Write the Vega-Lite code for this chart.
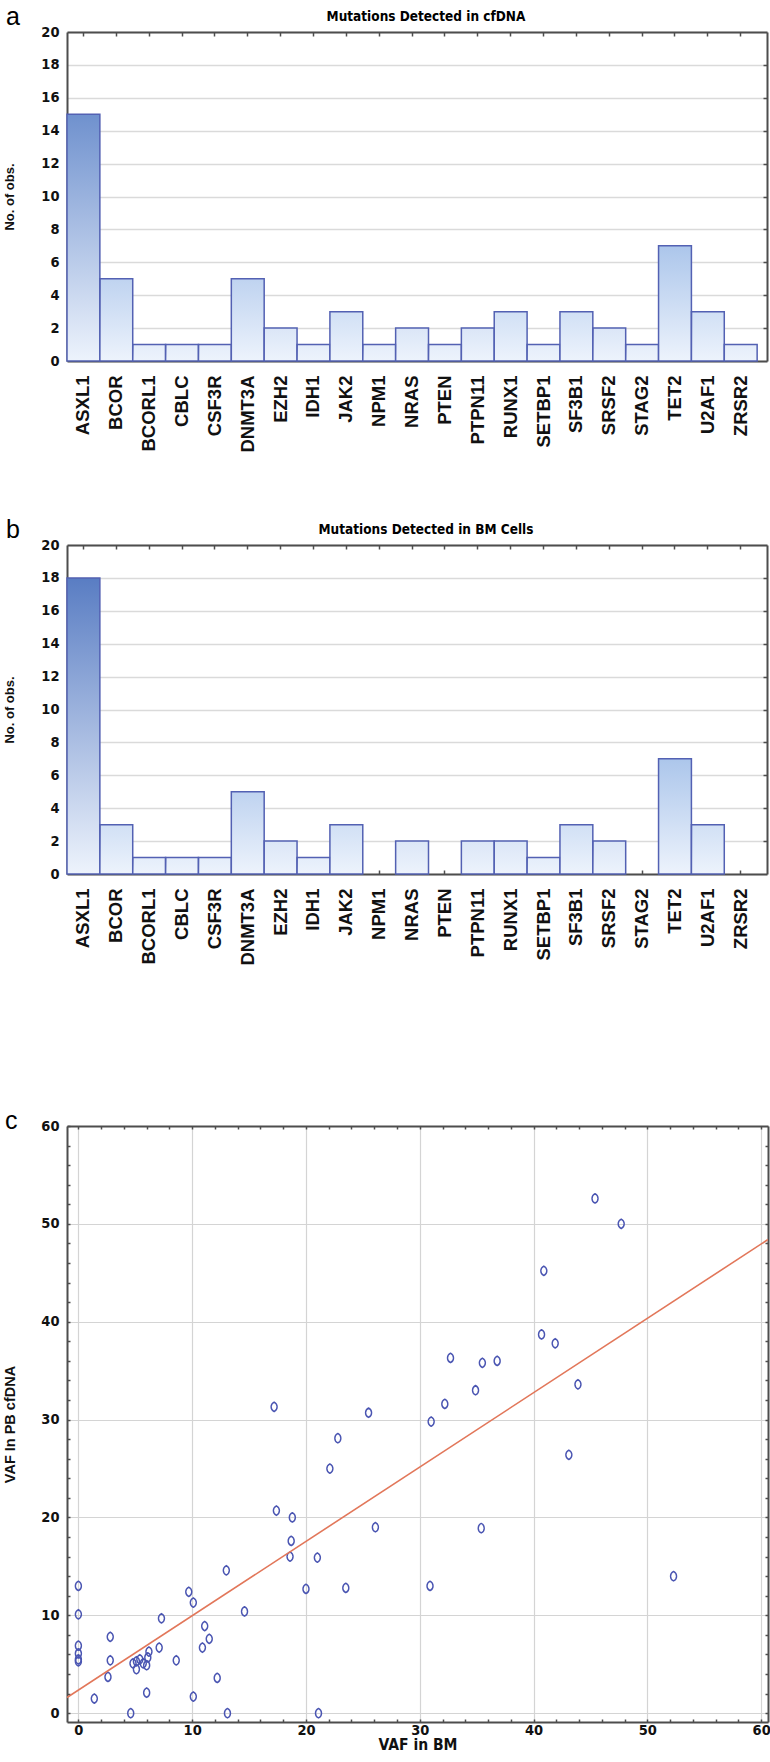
{
  "$schema": "https://vega.github.io/schema/vega-lite/v6.json",
  "background": "white",
  "padding": {"left": 2, "top": 4, "right": 0, "bottom": 0},
  "spacing": 143,
  "config": {
    "view": {"stroke": null},
    "axis": {
      "domainColor": "#4d4d4d",
      "domainWidth": 2,
      "tickColor": "#4d4d4d",
      "tickWidth": 1.5,
      "gridColor": "#dadada",
      "gridWidth": 1.5,
      "labelColor": "#111111",
      "titleColor": "#111111",
      "labelOverlap": false
    },
    "title": {"color": "#000000"}
  },
  "datasets": {
    "cfdna": [
      {"gene": "ASXL1", "count": 15}, {"gene": "BCOR", "count": 5}, {"gene": "BCORL1", "count": 1},
      {"gene": "CBLC", "count": 1}, {"gene": "CSF3R", "count": 1}, {"gene": "DNMT3A", "count": 5},
      {"gene": "EZH2", "count": 2}, {"gene": "IDH1", "count": 1}, {"gene": "JAK2", "count": 3},
      {"gene": "NPM1", "count": 1}, {"gene": "NRAS", "count": 2}, {"gene": "PTEN", "count": 1},
      {"gene": "PTPN11", "count": 2}, {"gene": "RUNX1", "count": 3}, {"gene": "SETBP1", "count": 1},
      {"gene": "SF3B1", "count": 3}, {"gene": "SRSF2", "count": 2}, {"gene": "STAG2", "count": 1},
      {"gene": "TET2", "count": 7}, {"gene": "U2AF1", "count": 3}, {"gene": "ZRSR2", "count": 1}
    ],
    "bm": [
      {"gene": "ASXL1", "count": 18}, {"gene": "BCOR", "count": 3}, {"gene": "BCORL1", "count": 1},
      {"gene": "CBLC", "count": 1}, {"gene": "CSF3R", "count": 1}, {"gene": "DNMT3A", "count": 5},
      {"gene": "EZH2", "count": 2}, {"gene": "IDH1", "count": 1}, {"gene": "JAK2", "count": 3},
      {"gene": "NPM1", "count": 0}, {"gene": "NRAS", "count": 2}, {"gene": "PTEN", "count": 0},
      {"gene": "PTPN11", "count": 2}, {"gene": "RUNX1", "count": 2}, {"gene": "SETBP1", "count": 1},
      {"gene": "SF3B1", "count": 3}, {"gene": "SRSF2", "count": 2}, {"gene": "STAG2", "count": 0},
      {"gene": "TET2", "count": 7}, {"gene": "U2AF1", "count": 3}, {"gene": "ZRSR2", "count": 0}
    ],
    "vaf": [
      {"bm": 0, "pb": 13.0}, {"bm": 0, "pb": 10.1}, {"bm": 0, "pb": 6.9}, {"bm": 0, "pb": 6.1},
      {"bm": 0, "pb": 5.5}, {"bm": 0, "pb": 5.3}, {"bm": 1.4, "pb": 1.5}, {"bm": 2.6, "pb": 3.7},
      {"bm": 2.8, "pb": 5.4}, {"bm": 2.8, "pb": 7.8}, {"bm": 4.6, "pb": 0}, {"bm": 4.8, "pb": 5.1},
      {"bm": 5.1, "pb": 5.3}, {"bm": 5.1, "pb": 4.5}, {"bm": 5.4, "pb": 5.5}, {"bm": 5.7, "pb": 5.1},
      {"bm": 6.0, "pb": 4.9}, {"bm": 6.2, "pb": 6.3}, {"bm": 6.1, "pb": 5.7}, {"bm": 6.0, "pb": 2.1},
      {"bm": 7.1, "pb": 6.7}, {"bm": 7.3, "pb": 9.7}, {"bm": 8.6, "pb": 5.4}, {"bm": 9.7, "pb": 12.4},
      {"bm": 10.1, "pb": 11.3}, {"bm": 10.1, "pb": 1.7}, {"bm": 11.1, "pb": 8.9}, {"bm": 11.5, "pb": 7.6},
      {"bm": 10.9, "pb": 6.7}, {"bm": 12.2, "pb": 3.6}, {"bm": 13.1, "pb": 0}, {"bm": 14.6, "pb": 10.4},
      {"bm": 13.0, "pb": 14.6}, {"bm": 17.2, "pb": 31.3}, {"bm": 17.4, "pb": 20.7}, {"bm": 18.8, "pb": 20.0},
      {"bm": 18.7, "pb": 17.6}, {"bm": 18.6, "pb": 16.0}, {"bm": 20.0, "pb": 12.7}, {"bm": 21.0, "pb": 15.9},
      {"bm": 21.1, "pb": 0}, {"bm": 22.1, "pb": 25.0}, {"bm": 22.8, "pb": 28.1}, {"bm": 23.5, "pb": 12.8},
      {"bm": 25.5, "pb": 30.7}, {"bm": 26.1, "pb": 19.0}, {"bm": 30.9, "pb": 13.0}, {"bm": 31.0, "pb": 29.8},
      {"bm": 32.2, "pb": 31.6}, {"bm": 32.7, "pb": 36.3}, {"bm": 34.9, "pb": 33.0}, {"bm": 35.5, "pb": 35.8},
      {"bm": 35.4, "pb": 18.9}, {"bm": 36.8, "pb": 36.0}, {"bm": 40.7, "pb": 38.7}, {"bm": 40.9, "pb": 45.2},
      {"bm": 41.9, "pb": 37.8}, {"bm": 43.1, "pb": 26.4}, {"bm": 43.9, "pb": 33.6}, {"bm": 45.4, "pb": 52.6},
      {"bm": 47.7, "pb": 50.0}, {"bm": 52.3, "pb": 14.0}
    ],
    "fit": [{"bm": -1, "pb": 1.6}, {"bm": 60.6, "pb": 48.4}]
  },
  "vconcat": [
    {
      "spacing": 64,
      "vconcat": [
        {
          "title": {"text": "a", "anchor": "start", "frame": "bounds", "offset": -19.5, "dx": 3, "fontSize": 25, "font": "Liberation Sans", "fontWeight": "normal"},
          "vconcat": [
            {
              "title": {"text": "Mutations Detected in cfDNA", "anchor": "middle", "frame": "group", "dx": 9, "offset": 0.5, "fontSize": 13.5, "font": "DejaVu Sans Condensed", "fontWeight": "bold"},
              "width": 700,
              "height": 329,
              "data": {"name": "cfdna"},
              "transform": [{"filter": "datum.count > 0"}],
              "encoding": {
                "x": {"field": "gene", "type": "nominal", "sort": null,
                  "scale": {"domain": ["ASXL1","BCOR","BCORL1","CBLC","CSF3R","DNMT3A","EZH2","IDH1","JAK2","NPM1","NRAS","PTEN","PTPN11","RUNX1","SETBP1","SF3B1","SRSF2","STAG2","TET2","U2AF1","ZRSR2"], "paddingInner": 0, "paddingOuter": 0.15, "align": 0}},
                "y": {"field": "count", "type": "quantitative", "scale": {"domain": [0, 20], "nice": false}}
              },
              "layer": [
                {
                  "mark": {"type": "bar", "strokeWidth": 0},
                  "encoding": {
                    "fill": {"field": "count", "type": "quantitative", "legend": null,
                      "scale": {"domain": [0, 8, 20], "range": ["#edf3fc", "#a3c0e8", "#4a70bb"], "interpolate": "rgb"}},
                    "x": {"field": "gene", "type": "nominal", "sort": null,
                      "axis": {"orient": "bottom", "title": null, "labelAngle": -90, "labelFont": "Liberation Sans", "labelFontWeight": "bold", "labelFontSize": 18.5, "labelPadding": 18, "tickSize": -4, "grid": false}},
                    "y": {"field": "count", "type": "quantitative",
                      "axis": {"orient": "left", "values": [0,2,4,6,8,10,12,14,16,18,20], "title": "No. of obs.", "titleFont": "Liberation Sans", "titleFontSize": 13, "titleFontWeight": "bold", "titlePadding": 7, "labelFont": "DejaVu Sans Condensed", "labelFontSize": 14.5, "labelFontWeight": "bold", "labelPadding": 8, "ticks": false, "grid": true, "minExtent": 44, "maxExtent": 44}}
                  }
                },
                {
                  "mark": {"type": "bar", "stroke": "#5361b3", "strokeWidth": 1.5,
                    "fill": {"gradient": "linear", "x1": 0, "y1": 0, "x2": 0, "y2": 1,
                      "stops": [{"offset": 0, "color": "rgba(237,243,252,0)"}, {"offset": 1, "color": "rgba(237,243,252,1)"}]}},
                  "encoding": {
                    "x": {"field": "gene", "type": "nominal", "sort": null,
                      "axis": {"orient": "top", "title": null, "labels": false, "tickSize": -4, "grid": false}},
                    "y": {"field": "count", "type": "quantitative",
                      "axis": {"orient": "right", "title": null, "labels": false, "values": [2,4,6,8,10,12,14,16,18], "tickSize": -4, "grid": false}}
                  }
                }
              ],
              "resolve": {"axis": {"x": "independent", "y": "independent"}}
            }
          ]
        },
        {
          "title": {"text": "b", "anchor": "start", "frame": "bounds", "offset": -19.5, "dx": 3, "fontSize": 25, "font": "Liberation Sans", "fontWeight": "normal"},
          "vconcat": [
            {
              "title": {"text": "Mutations Detected in BM Cells", "anchor": "middle", "frame": "group", "dx": 9, "offset": 0.5, "fontSize": 13.5, "font": "DejaVu Sans Condensed", "fontWeight": "bold"},
              "width": 700,
              "height": 329,
              "data": {"name": "bm"},
              "transform": [{"filter": "datum.count > 0"}],
              "encoding": {
                "x": {"field": "gene", "type": "nominal", "sort": null,
                  "scale": {"domain": ["ASXL1","BCOR","BCORL1","CBLC","CSF3R","DNMT3A","EZH2","IDH1","JAK2","NPM1","NRAS","PTEN","PTPN11","RUNX1","SETBP1","SF3B1","SRSF2","STAG2","TET2","U2AF1","ZRSR2"], "paddingInner": 0, "paddingOuter": 0.15, "align": 0}},
                "y": {"field": "count", "type": "quantitative", "scale": {"domain": [0, 20], "nice": false}}
              },
              "layer": [
                {
                  "mark": {"type": "bar", "strokeWidth": 0},
                  "encoding": {
                    "fill": {"field": "count", "type": "quantitative", "legend": null,
                      "scale": {"domain": [0, 8, 20], "range": ["#edf3fc", "#a3c0e8", "#4a70bb"], "interpolate": "rgb"}},
                    "x": {"field": "gene", "type": "nominal", "sort": null,
                      "axis": {"orient": "bottom", "title": null, "labelAngle": -90, "labelFont": "Liberation Sans", "labelFontWeight": "bold", "labelFontSize": 18.5, "labelPadding": 18, "tickSize": -4, "grid": false}},
                    "y": {"field": "count", "type": "quantitative",
                      "axis": {"orient": "left", "values": [0,2,4,6,8,10,12,14,16,18,20], "title": "No. of obs.", "titleFont": "Liberation Sans", "titleFontSize": 13, "titleFontWeight": "bold", "titlePadding": 7, "labelFont": "DejaVu Sans Condensed", "labelFontSize": 14.5, "labelFontWeight": "bold", "labelPadding": 8, "ticks": false, "grid": true, "minExtent": 44, "maxExtent": 44}}
                  }
                },
                {
                  "mark": {"type": "bar", "stroke": "#5361b3", "strokeWidth": 1.5,
                    "fill": {"gradient": "linear", "x1": 0, "y1": 0, "x2": 0, "y2": 1,
                      "stops": [{"offset": 0, "color": "rgba(237,243,252,0)"}, {"offset": 1, "color": "rgba(237,243,252,1)"}]}},
                  "encoding": {
                    "x": {"field": "gene", "type": "nominal", "sort": null,
                      "axis": {"orient": "top", "title": null, "labels": false, "tickSize": -4, "grid": false}},
                    "y": {"field": "count", "type": "quantitative",
                      "axis": {"orient": "right", "title": null, "labels": false, "values": [2,4,6,8,10,12,14,16,18], "tickSize": -4, "grid": false}}
                  }
                }
              ],
              "resolve": {"axis": {"x": "independent", "y": "independent"}}
            }
          ]
        }
      ]
    },
    {
      "title": {"text": "c", "anchor": "start", "frame": "bounds", "offset": -16.3, "dx": 3, "fontSize": 25, "font": "Liberation Sans", "fontWeight": "normal"},
      "vconcat": [
        {
          "width": 701,
          "height": 596,
          "layer": [
            {
              "data": {"name": "vaf"},
              "mark": {"type": "point", "shape": "M0,-1C0.85,-0.6,0.85,0.6,0,1C-0.85,0.6,-0.85,-0.6,0,-1Z", "filled": false, "stroke": "#4a55b2", "strokeWidth": 1.4, "size": 90, "opacity": 1},
              "encoding": {
                "x": {"field": "bm", "type": "quantitative", "scale": {"domain": [-1, 60.6], "nice": false, "zero": false},
                  "axis": {"orient": "bottom", "title": "VAF in BM", "titleFont": "DejaVu Sans Condensed", "titleFontSize": 15.5, "titleFontWeight": "bold", "titlePadding": 1,
                    "values": [0,2,4,6,8,10,12,14,16,18,20,22,24,26,28,30,32,34,36,38,40,42,44,46,48,50,52,54,56,58,60],
                    "labelExpr": "datum.value % 10 === 0 ? datum.label : ''",
                    "labelFont": "DejaVu Sans Condensed", "labelFontSize": 14.5, "labelFontWeight": "bold", "labelPadding": 4, "tickSize": -3,
                    "grid": true, "gridColor": "#d4d4d4", "gridWidth": 1.2,
                    "gridOpacity": {"condition": {"test": "datum.value % 10 === 0", "value": 1}, "value": 0}}},
                "y": {"field": "pb", "type": "quantitative", "scale": {"domain": [-0.9, 60], "nice": false, "zero": false},
                  "axis": {"orient": "left", "title": "VAF In PB cfDNA", "titleFont": "Liberation Sans", "titleFontSize": 14.5, "titleFontWeight": "bold", "titlePadding": 6,
                    "values": [0,2,4,6,8,10,12,14,16,18,20,22,24,26,28,30,32,34,36,38,40,42,44,46,48,50,52,54,56,58,60],
                    "labelExpr": "datum.value % 10 === 0 ? datum.label : ''",
                    "labelFont": "DejaVu Sans Condensed", "labelFontSize": 14.5, "labelFontWeight": "bold", "labelPadding": 11, "tickSize": -3,
                    "grid": true, "gridColor": "#d4d4d4", "gridWidth": 1.2,
                    "gridOpacity": {"condition": {"test": "datum.value % 10 === 0", "value": 1}, "value": 0},
                    "minExtent": 44, "maxExtent": 44}}
              }
            },
            {
              "data": {"name": "fit"},
              "mark": {"type": "line", "color": "#e2775a", "strokeWidth": 1.6, "clip": true},
              "encoding": {
                "x": {"field": "bm", "type": "quantitative",
                  "axis": {"orient": "top", "title": null, "labels": false, "values": [0,2,4,6,8,10,12,14,16,18,20,22,24,26,28,30,32,34,36,38,40,42,44,46,48,50,52,54,56,58,60], "tickSize": -3, "grid": false}},
                "y": {"field": "pb", "type": "quantitative",
                  "axis": {"orient": "right", "title": null, "labels": false, "values": [0,2,4,6,8,10,12,14,16,18,20,22,24,26,28,30,32,34,36,38,40,42,44,46,48,50,52,54,56,58], "tickSize": -3, "grid": false}}
              }
            }
          ],
          "resolve": {"axis": {"x": "independent", "y": "independent"}}
        }
      ]
    }
  ]
}
